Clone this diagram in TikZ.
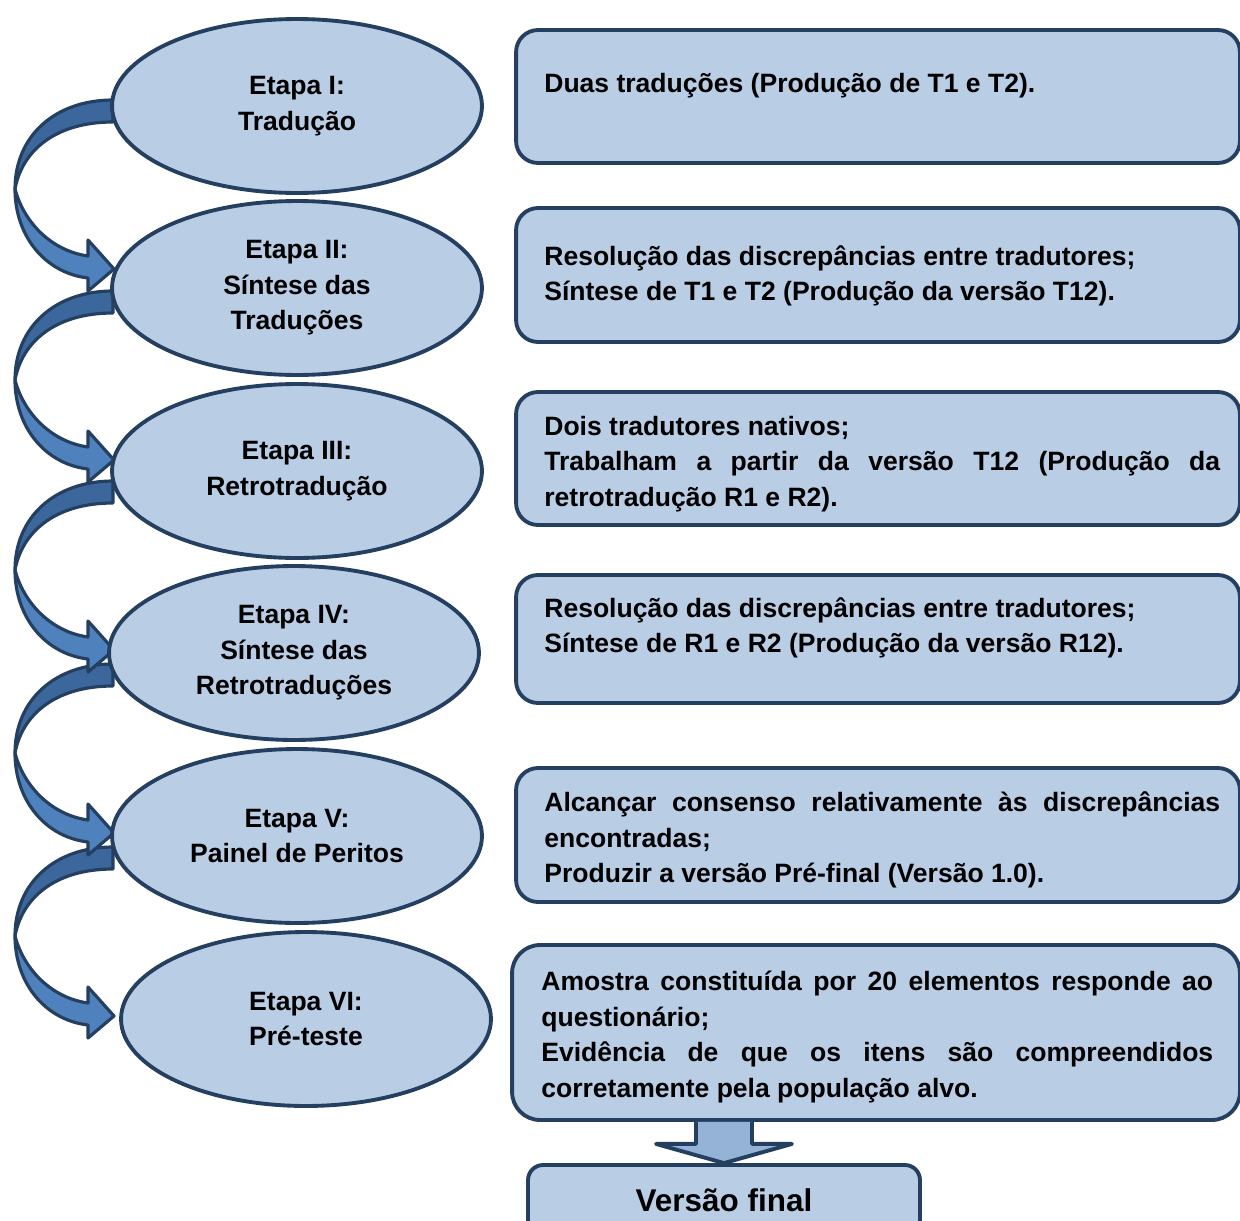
\documentclass[tikz,border=0pt]{standalone}
\usepackage{fontspec}
\setmainfont{Liberation Sans}
\usepackage{tikz}
\usetikzlibrary{calc, shapes.geometric}
\definecolor{azulclaro}{RGB}{185,205,229}
\definecolor{azulescuro}{RGB}{36,63,96}
\definecolor{azulseta}{RGB}{79,129,189}
\definecolor{azulsombra}{RGB}{60,103,156}
\definecolor{azulmedio}{RGB}{149,179,215}

\begin{document}
\begin{tikzpicture}[
    x=0.02cm, y=-0.02cm,
    font=\fontsize{15.1}{20.2}\selectfont\bfseries,
    etapa/.style={ellipse, draw=azulescuro, line width=2.2pt, fill=azulclaro,
                  minimum width=7.4cm, minimum height=3.48cm, align=center, inner sep=0pt},
    caixa/.style={draw=azulescuro, line width=2.2pt, fill=azulclaro,
                  rounded corners=0.44cm, minimum width=14.48cm},
    texto/.style={anchor=west, inner sep=0pt, text width=13.52cm, align=justify},
    seta/.style={draw=azulescuro, line width=1.8pt, line join=round}
  ]
    \useasboundingbox (0,0) rectangle (1240,1220);

    % setas curvas a esquerda
    \foreach \T in {858,675,492,302,111} {
      \draw[seta, fill=azulsombra] (113,\T-11) .. controls (55,\T-11) and (15,\T+25) .. (15,\T+78)
        .. controls (22,\T+40) and (55,\T+11) .. (113,\T+11) -- cycle;
      \draw[seta, fill=azulseta] (15,\T+78) .. controls (15,\T+125) and (45,\T+162) .. (88,\T+167)
        -- (88,\T+180) -- (114,\T+158) -- (88,\T+129) -- (88,\T+145)
        .. controls (52,\T+140) and (24,\T+112) .. cycle;
    }

    \node[etapa] (e1) at (297,106) {Etapa I:\\Tradução};
    \node[etapa] (e2) at (297,288) {Etapa II:\\Síntese das\\Traduções};
    \node[etapa] (e3) at (297,471) {Etapa III:\\Retrotradução};
    \node[etapa] (e4) at (294,653) {Etapa IV:\\Síntese das\\Retrotraduções};
    \node[etapa] (e5) at (297,836) {Etapa V:\\Painel de Peritos};
    \node[etapa] (e6) at (306,1019) {Etapa VI:\\Pré-teste};

    \node[caixa, minimum height=2.66cm] (c1) at (878,96.5) {};
    \node[caixa, minimum height=2.68cm] (c2) at (878,275) {};
    \node[caixa, minimum height=2.66cm] (c3) at (878,458.5) {};
    \node[caixa, minimum height=2.56cm] (c4) at (878,639) {};
    \node[caixa, minimum height=2.68cm] (c5) at (878,835) {};
    \node[caixa, minimum height=3.5cm, minimum width=14.56cm, rounded corners=0.56cm] (c6) at (876,1032.5) {};

    \node[texto] (t1) at (544,86) {Duas traduções (Produção de T1 e T2).};
    \node[texto] (t2) at (544,276) {Resolução das discrepâncias entre tradutores;\\
      Síntese de T1 e T2 (Produção da versão T12).};
    \node[texto] (t3) at (544,464) {Dois tradutores nativos;\\
      Trabalham a partir da versão T12 (Produção da\linebreak retrotradução R1 e R2).};
    \node[texto] (t4) at (544,628) {Resolução das discrepâncias entre tradutores;\\
      Síntese de R1 e R2 (Produção da versão R12).};
    \node[texto] (t5) at (544,840) {Alcançar consenso relativamente às discrepâncias\linebreak
      encontradas;\\Produzir a versão Pré-final (Versão 1.0).};
    \node[texto, text width=13.44cm] (t6) at (541,1037) {Amostra constituída por 20 elementos responde ao\linebreak
      questionário;\\Evidência de que os itens são compreendidos\linebreak
      corretamente pela população alvo.};

    \node[caixa, minimum width=7.84cm, minimum height=1.4cm, rounded corners=0.3cm,
          font=\fontsize{17.9}{21}\selectfont\bfseries] (final) at (724,1200) {Versão final};

    % seta para a versao final
    \coordinate (topo) at (final.north |- c6.south);
    \draw[seta, line width=2.2pt, fill=azulmedio] ($(topo)+(-28,0)$) -- ($(topo)+(-28,22)$)
      -- ($(topo)+(-68,22)$) -- (final.north) -- ($(topo)+(68,22)$)
      -- ($(topo)+(28,22)$) -- ($(topo)+(28,0)$);
\end{tikzpicture}
\end{document}
